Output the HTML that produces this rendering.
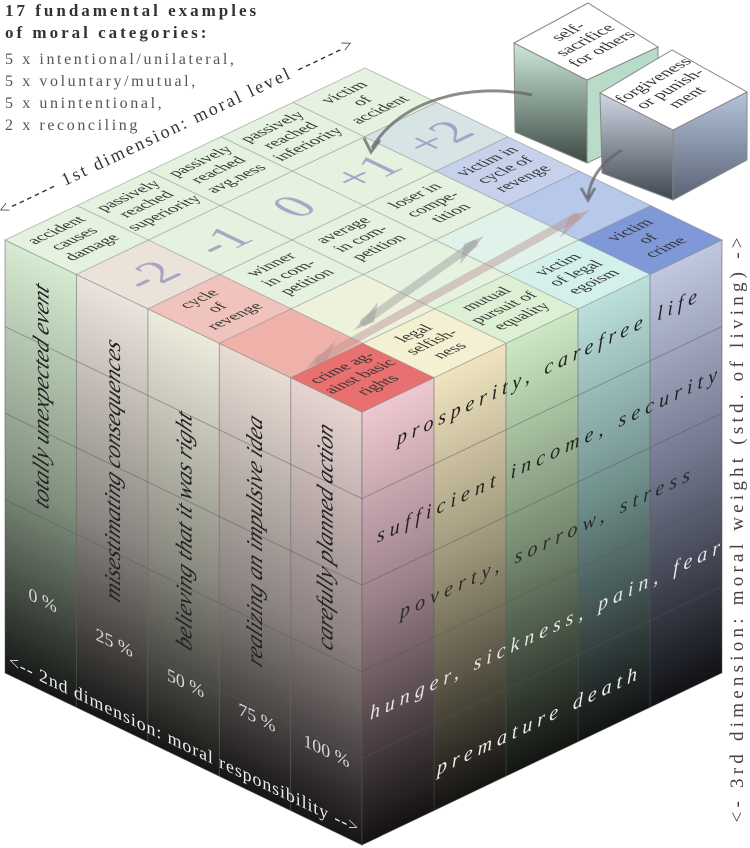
<!DOCTYPE html>
<html><head><meta charset="utf-8"><style>
body{margin:0;background:#fff;}
svg{display:block;font-family:"Liberation Serif",serif;}
</style></head><body>
<svg width="750" height="848" viewBox="0 0 750 848" xmlns="http://www.w3.org/2000/svg">
<defs>
<linearGradient id="l0" x1="0" y1="0" x2="0" y2="1"><stop offset="0" stop-color="#d6ebd2"/><stop offset="0.55" stop-color="#7f8f7c"/><stop offset="1" stop-color="#141614"/></linearGradient>
<linearGradient id="l1" x1="0" y1="0" x2="0" y2="1"><stop offset="0" stop-color="#ebe4dc"/><stop offset="0.55" stop-color="#8a8580"/><stop offset="1" stop-color="#161514"/></linearGradient>
<linearGradient id="l2" x1="0" y1="0" x2="0" y2="1"><stop offset="0" stop-color="#ecebdc"/><stop offset="0.55" stop-color="#8b8a80"/><stop offset="1" stop-color="#161615"/></linearGradient>
<linearGradient id="l3" x1="0" y1="0" x2="0" y2="1"><stop offset="0" stop-color="#e9dcd4"/><stop offset="0.55" stop-color="#8a8380"/><stop offset="1" stop-color="#161414"/></linearGradient>
<linearGradient id="l4" x1="0" y1="0" x2="0" y2="1"><stop offset="0" stop-color="#e6d4d0"/><stop offset="0.55" stop-color="#8c8080"/><stop offset="1" stop-color="#161414"/></linearGradient>
<linearGradient id="r0" x1="0" y1="0" x2="0" y2="1"><stop offset="0" stop-color="#eec8d0"/><stop offset="0.45" stop-color="#9a8088"/><stop offset="1" stop-color="#141213"/></linearGradient>
<linearGradient id="r1" x1="0" y1="0" x2="0" y2="1"><stop offset="0" stop-color="#f0e4c0"/><stop offset="0.45" stop-color="#9c9478"/><stop offset="1" stop-color="#151411"/></linearGradient>
<linearGradient id="r2" x1="0" y1="0" x2="0" y2="1"><stop offset="0" stop-color="#cce8c4"/><stop offset="0.45" stop-color="#7e9478"/><stop offset="1" stop-color="#121511"/></linearGradient>
<linearGradient id="r3" x1="0" y1="0" x2="0" y2="1"><stop offset="0" stop-color="#bce0dc"/><stop offset="0.45" stop-color="#70908c"/><stop offset="1" stop-color="#111414"/></linearGradient>
<linearGradient id="r4" x1="0" y1="0" x2="0" y2="1"><stop offset="0" stop-color="#c0c8e0"/><stop offset="0.45" stop-color="#747a90"/><stop offset="1" stop-color="#111216"/></linearGradient>
<linearGradient id="c1" x1="0" y1="0" x2="0" y2="1"><stop offset="0" stop-color="#cdeadb"/><stop offset="1" stop-color="#3c4a44"/></linearGradient>
<linearGradient id="c2" x1="0" y1="0" x2="0" y2="1"><stop offset="0" stop-color="#d0d8e6"/><stop offset="1" stop-color="#40464f"/></linearGradient>
<linearGradient id="c2r" x1="0" y1="0" x2="0" y2="1"><stop offset="0" stop-color="#b4c4dc"/><stop offset="1" stop-color="#5a6274"/></linearGradient>
</defs>

<g font-size="17" fill="#333">
<text x="5" y="16" font-weight="bold" letter-spacing="3">17 fundamental examples</text>
<text x="5" y="38" font-weight="bold" letter-spacing="3">of moral categories:</text>
<g fill="#555" font-size="16" letter-spacing="2.6">
<text x="5" y="64">5 x intentional/unilateral,</text>
<text x="5" y="86">5 x voluntary/mutual,</text>
<text x="5" y="108">5 x unintentional,</text>
<text x="5" y="130">2 x reconciling</text>
</g>
</g>

<!-- LEFT FACE -->
<g transform="matrix(0.992,0.478,0,1,5,240)">
<rect x="0" y="0" width="72" height="433" fill="url(#l0)"/>
<rect x="72" y="0" width="72" height="433" fill="url(#l1)"/>
<rect x="144" y="0" width="72" height="433" fill="url(#l2)"/>
<rect x="216" y="0" width="72" height="433" fill="url(#l3)"/>
<rect x="288" y="0" width="72" height="433" fill="url(#l4)"/>
<g stroke="#555" stroke-opacity="0.5" stroke-width="1" fill="none">
<line x1="72" y1="0" x2="72" y2="433"/><line x1="144" y1="0" x2="144" y2="433"/><line x1="216" y1="0" x2="216" y2="433"/><line x1="288" y1="0" x2="288" y2="433"/>
<line x1="0" y1="86.6" x2="360" y2="86.6"/><line x1="0" y1="173.2" x2="360" y2="173.2"/><line x1="0" y1="259.8" x2="360" y2="259.8"/><line x1="0" y1="346.4" x2="360" y2="346.4"/>
<rect x="0" y="0" width="360" height="433"/>
</g>
<g font-size="23" font-style="italic" fill="#222" text-anchor="middle">
<text transform="translate(44,138) rotate(-90)">totally unexpected event</text>
<text transform="translate(116,178) rotate(-90)">misestimating consequences</text>
<text transform="translate(188,204) rotate(-90)">believing that it was right</text>
<text transform="translate(259,180) rotate(-90)">realizing an impulsive idea</text>
<text transform="translate(330,142) rotate(-90)">carefully planned action</text>
</g>
<g font-size="18" fill="#d8d8d8" text-anchor="middle">
<text x="38" y="348">0 %</text>
<text x="110" y="356">25 %</text>
<text x="182" y="362">50 %</text>
<text x="254" y="362">75 %</text>
<text x="324" y="362">100 %</text>
</g>
<text x="180" y="424" font-size="18" fill="#eee" text-anchor="middle" textLength="352" lengthAdjust="spacing">&lt;-- 2nd dimension:  moral responsibility --&gt;</text>
</g>

<!-- RIGHT FACE -->
<g transform="matrix(1,-0.478,0,1,362,412)">
<rect x="0" y="0" width="72" height="433" fill="url(#r0)"/>
<rect x="72" y="0" width="72" height="433" fill="url(#r1)"/>
<rect x="144" y="0" width="72" height="433" fill="url(#r2)"/>
<rect x="216" y="0" width="72" height="433" fill="url(#r3)"/>
<rect x="288" y="0" width="72" height="433" fill="url(#r4)"/>
<g stroke="#555" stroke-opacity="0.5" stroke-width="1" fill="none">
<line x1="72" y1="0" x2="72" y2="433"/><line x1="144" y1="0" x2="144" y2="433"/><line x1="216" y1="0" x2="216" y2="433"/><line x1="288" y1="0" x2="288" y2="433"/>
<line x1="0" y1="86.6" x2="360" y2="86.6"/><line x1="0" y1="173.2" x2="360" y2="173.2"/><line x1="0" y1="259.8" x2="360" y2="259.8"/><line x1="0" y1="346.4" x2="360" y2="346.4"/>
<rect x="0" y="0" width="360" height="433"/>
</g>
<g font-size="20" font-style="italic" text-anchor="middle" lengthAdjust="spacing">
<text x="185" y="50" fill="#222" textLength="300">prosperity, carefree life</text>
<text x="185" y="138" fill="#222" textLength="340">sufficient income, security</text>
<text x="183" y="225" fill="#2a2a2a" textLength="290">poverty, sorrow, stress</text>
<text x="183" y="312" fill="#e6e6e6" textLength="350">hunger, sickness, pain, fear</text>
<text x="175" y="399" fill="#eee" textLength="200">premature death</text>
</g>
</g>

<!-- TOP FACE -->
<g transform="matrix(1,-0.478,0.992,0.478,5,240)">
<rect x="0" y="0" width="360" height="360" fill="#e4f2df"/>
<rect x="0" y="72" width="72" height="72" fill="#ebe3da"/>
<rect x="0" y="144" width="72" height="72" fill="#f0c4bc"/>
<rect x="0" y="216" width="72" height="72" fill="#efb2aa"/>
<rect x="0" y="288" width="72" height="72" fill="#e87070"/>
<rect x="72" y="216" width="72" height="72" fill="#eef2dc"/>
<rect x="72" y="288" width="72" height="72" fill="#f4f0d2"/>
<rect x="144" y="288" width="72" height="72" fill="#dcf0d4"/>
<rect x="216" y="288" width="72" height="72" fill="#d4f0ea"/>
<rect x="216" y="216" width="72" height="72" fill="#e0f2ea"/>
<rect x="288" y="288" width="72" height="72" fill="#7f99d8"/>
<rect x="288" y="216" width="72" height="72" fill="#b8c8ea"/>
<rect x="288" y="144" width="72" height="72" fill="#c6d2ec"/>
<rect x="288" y="72" width="72" height="72" fill="#d6e4e6"/>
<g stroke="#888" stroke-opacity="0.6" stroke-width="1" fill="none">
<line x1="72" y1="0" x2="72" y2="360"/><line x1="144" y1="0" x2="144" y2="360"/><line x1="216" y1="0" x2="216" y2="360"/><line x1="288" y1="0" x2="288" y2="360"/>
<line x1="0" y1="72" x2="360" y2="72"/><line x1="0" y1="144" x2="360" y2="144"/><line x1="0" y1="216" x2="360" y2="216"/><line x1="0" y1="288" x2="360" y2="288"/>
<rect x="0" y="0" width="360" height="360"/>
</g>
<g font-size="15.5" fill="#333" text-anchor="middle">
<text x="36" y="20">accident</text><text x="36" y="38">causes</text><text x="36" y="56">damage</text>
<text x="108" y="20">passively</text><text x="108" y="38">reached</text><text x="108" y="56">superiority</text>
<text x="180" y="20">passively</text><text x="180" y="38">reached</text><text x="180" y="56">avg.ness</text>
<text x="252" y="20">passively</text><text x="252" y="38">reached</text><text x="252" y="56">inferiority</text>
<text x="324" y="20">victim</text><text x="324" y="38">of</text><text x="324" y="56">accident</text>
<text x="36" y="164">cycle</text><text x="36" y="182">of</text><text x="36" y="200">revenge</text>
<text x="108" y="164">winner</text><text x="108" y="182">in com-</text><text x="108" y="200">petition</text>
<text x="180" y="164">average</text><text x="180" y="182">in com-</text><text x="180" y="200">petition</text>
<text x="252" y="164">loser in</text><text x="252" y="182">compe-</text><text x="252" y="200">tition</text>
<text x="324" y="164">victim in</text><text x="324" y="182">cycle of</text><text x="324" y="200">revenge</text>
<text x="36" y="308">crime ag-</text><text x="36" y="326">ainst basic</text><text x="36" y="344">rights</text>
<text x="108" y="308">legal</text><text x="108" y="326">selfish-</text><text x="108" y="344">ness</text>
<text x="180" y="308">mutual</text><text x="180" y="326">pursuit of</text><text x="180" y="344">equality</text>
<text x="252" y="308">victim</text><text x="252" y="326">of legal</text><text x="252" y="344">egoism</text>
<text x="324" y="308">victim</text><text x="324" y="326">of</text><text x="324" y="344">crime</text>
</g>
<g font-size="46" fill="#8f90bb" fill-opacity="0.75" text-anchor="middle">
<text x="36" y="125">-2</text><text x="108" y="125">-1</text><text x="180" y="125">0</text><text x="252" y="125">+1</text><text x="324" y="125">+2</text>
</g>
</g>

<g stroke-linecap="round">
<line x1="318" y1="360" x2="576" y2="217" stroke="#b89090" stroke-opacity="0.45" stroke-width="8"/>
<polygon points="306,368 336,340 326,362" fill="#b89090" fill-opacity="0.5"/>
<polygon points="590,210 560,238 570,216" fill="#b89090" fill-opacity="0.5"/>
<line x1="364" y1="322" x2="474" y2="244" stroke="#999" stroke-opacity="0.45" stroke-width="8"/>
<polygon points="354,330 378,302 374,322" fill="#999" fill-opacity="0.5"/>
<polygon points="484,236 460,264 464,244" fill="#999" fill-opacity="0.5"/>
</g>

<text transform="translate(178,132) rotate(-25.5)" font-size="18" fill="#333" text-anchor="middle" textLength="390" lengthAdjust="spacing">&lt;------  1st dimension:  moral level  ------&gt;</text>
<text transform="translate(743,530) rotate(-90)" font-size="19" fill="#444" text-anchor="middle" textLength="585" lengthAdjust="spacing">&lt;- 3rd dimension:  moral weight (std. of living) -&gt;</text>

<polygon points="587,80 658,47 658,130 587,163" fill="#b8dcc8" stroke="#888"/>
<polygon points="514,43 587,80 587,163 515,132" fill="url(#c1)" stroke="#888"/>
<polygon points="514,43 588,3 658,47 587,80" fill="#fff" stroke="#888"/>
<g transform="matrix(0.74,-0.40,0.73,0.37,514,43)" font-size="21" fill="#333" text-anchor="middle">
<text x="50" y="30">self-</text><text x="50" y="53">sacrifice</text><text x="50" y="76">for others</text>
</g>
<polygon points="673,130 747,92 747,160 673,200" fill="url(#c2r)" stroke="#888"/>
<polygon points="600,93 673,130 673,200 602,173" fill="url(#c2)" stroke="#888"/>
<polygon points="600,93 672,50 747,92 673,130" fill="#fff" stroke="#888"/>
<g transform="matrix(0.72,-0.43,0.73,0.37,600,93)" font-size="21" fill="#333" text-anchor="middle">
<text x="50" y="30">forgiveness</text><text x="50" y="53">or punish-</text><text x="50" y="76">ment</text>
</g>

<g fill="none" stroke="#666" stroke-opacity="0.75" stroke-width="3">
<path d="M532,95 C470,82 400,100 372,148"/>
<path d="M364,138 L371,152 L380,140"/>
<path d="M622,150 C602,162 590,178 588,198"/>
<path d="M581,188 L588,200 L595,188"/>
</g>
</svg>
</body></html>
